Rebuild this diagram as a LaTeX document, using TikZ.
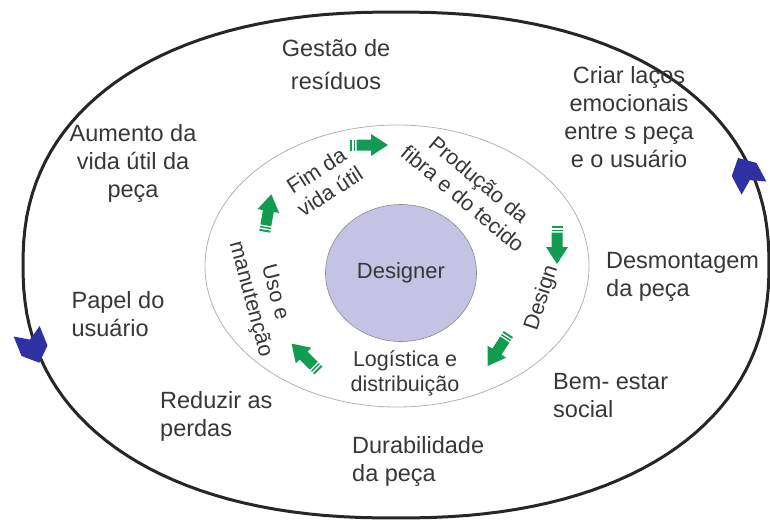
\documentclass[tikz,border=0pt]{standalone}
\usepackage{fontspec}
\setmainfont{Liberation Sans}
\usetikzlibrary{shapes.geometric}
\definecolor{textgrey}{RGB}{55, 55, 55}
\definecolor{cyclegreen}{RGB}{18, 155, 82}
\definecolor{cycleblue}{RGB}{48, 48, 165}
\definecolor{designerfill}{RGB}{197, 195, 228}

\tikzset{
    cyclearrow/.pic={
        \fill[cyclegreen] (-12.5,-5.5) -- (2,-5.5) -- (2,-11) -- (19,0) -- (2,11) -- (2,5.5) -- (-12.5,5.5) -- cycle;
        \fill[cyclegreen] (-19,-5.5) rectangle (-17,5.5);
        \fill[cyclegreen] (-15.5,-5.5) rectangle (-14,5.5);
    },
    outerchevron/.pic={
        \fill[cycleblue] (-17,-14) -- (4,-14) -- (17,0) -- (4,14) -- (-17,14) -- (-8,0) -- cycle;
    }
}

\begin{document}
\begin{tikzpicture}[x=1pt, y=-1pt,
        outertext/.style={font=\fontsize{23.5}{28}\selectfont, text=textgrey, align=center, inner sep=0pt},
        ringtext/.style={font=\fontsize{21.5}{25}\selectfont, text=textgrey, align=center, inner sep=0pt},
        designerbox/.style={ellipse, draw=black!45, line width=0.6pt, fill=designerfill,
                     minimum width=151pt, minimum height=137pt, inner sep=0pt,
                     font=\fontsize{22}{26}\selectfont, text=textgrey}
    ]
        \useasboundingbox (0,0) rectangle (770,522);
        \draw[line width=3pt, black!85, line join=round]
            plot[domain=1.25:358.75, samples=144]
                ({396+373*sign(cos(\x))*abs(cos(\x))^0.88}, {265-253*sign(sin(\x))*abs(sin(\x))^0.88}) -- cycle;
        \draw[line width=0.8pt, black!30] (397,266) ellipse [x radius=192, y radius=141];
        \node[designerbox] (designer) at (401,273) {Designer};

        \node[outertext] (gestao) at (336,65) {Gestão de\\[5pt]resíduos};
        \node[outertext] (lacos) at (629,117) {Criar laços\\emocionais\\entre s peça\\e o usuário};
        \node[outertext] (aumento) at (133,163) {Aumento da\\vida útil da\\peça};
        \node[outertext, align=left] (papel) at (118,314) {Papel do\\usuário};
        \node[outertext, align=left, anchor=west] (reduzir) at (160,416) {Reduzir as\\perdas};
        \node[outertext, align=left, anchor=west] (durab) at (352,461) {Durabilidade\\da peça};
        \node[outertext, align=left, anchor=west] (bemestar) at (553,396) {Bem- estar\\social};
        \node[outertext, align=left, anchor=west] (desmont) at (606,277) {Desmontagem\\da peça};

        \node[ringtext, rotate=33] (fim) at (323,181) {Fim da\\vida útil};
        \node[ringtext, rotate=-40] (producao) at (471,189) {Produção da\\fibra e do tecido};
        \node[ringtext, rotate=72] (design) at (542,298) {Design};
        \node[ringtext] (logistica) at (405,373) {Logística e\\distribuição};
        \node[ringtext, rotate=-75] (uso) at (262,296) {Uso e\\manutenção};

        \foreach \x/\y/\a in {369/145/0, 557/245/-90, 498/350/-123, 305/357/135, 268/213/80}
            \pic[rotate=\a] at (\x,\y) {cyclearrow};
        \foreach \x/\y/\a in {33/347/-68, 746/173/118}
            \pic[rotate=\a] at (\x,\y) {outerchevron};
    \end{tikzpicture}
\end{document}
